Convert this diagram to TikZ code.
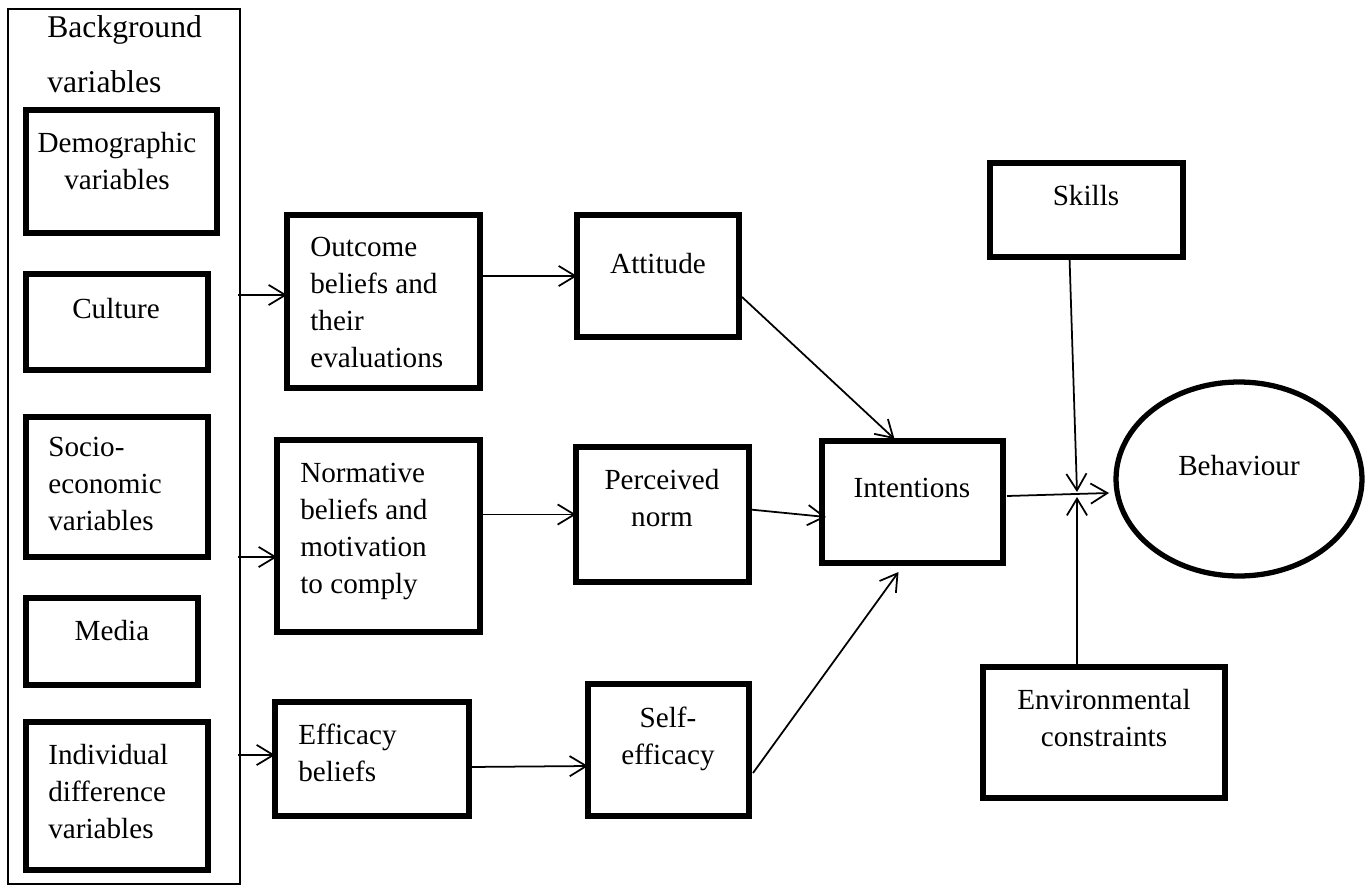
\documentclass[tikz,border=0pt]{standalone}
\usepackage{fontspec}
\setmainfont{Liberation Serif}
\usetikzlibrary{arrows.meta,calc,fit,shapes.geometric}

\begin{document}
\begin{tikzpicture}[x=0.02cm,y=-0.02cm,
  box/.style={draw,line width=3pt,inner sep=0pt,outer sep=0pt},
  frame/.style={draw,line width=0.8pt,inner sep=0pt,outer sep=0pt},
  oval/.style={draw,ellipse,line width=3pt,inner sep=0pt,outer sep=0pt,
    minimum width=4.92cm,minimum height=3.88cm},
  txt/.style={inner sep=0pt,font=\fontsize{16.6}{21}\selectfont},
  txtc/.style={txt,align=center,anchor=north},
  txtl/.style={txt,align=left,anchor=north west},
  arr/.style={-{Straight Barb[length=9.5pt,width=11.5pt]},line width=1pt}]

\useasboundingbox (0,0) rectangle (1370,886);

% background variables column
\node[frame,fit={(8,9) (240,884)}] (bg) {};
\node[txtl,font=\fontsize{18}{31.3}\selectfont] (bgt) at (47,15) {Background\\variables};

\node[box,fit={(26,110) (217,233)}] (demo) {};
\node[txtc] (demot) at (117,132) {Demographic\\variables};
\node[box,fit={(26,274) (208,370)}] (cult) {};
\node[txtc] (cultt) at (116,298) {Culture};
\node[box,fit={(26,417) (208,557)}] (soc) {};
\node[txtl] (soct) at (48,437) {Socio-\\economic\\variables};
\node[box,fit={(26,598) (198,685)}] (med) {};
\node[txtc] (medt) at (112,620) {Media};
\node[box,fit={(26,722) (208,870)}] (ind) {};
\node[txtl] (indt) at (48,744) {Individual\\difference\\variables};

% belief boxes
\node[box,fit={(287,215) (480,388)}] (outc) {};
\node[txtl] (outct) at (310,237) {Outcome\\beliefs and\\their\\evaluations};
\node[box,fit={(277,440) (480,632)}] (norm) {};
\node[txtl] (normt) at (300,463) {Normative\\beliefs and\\motivation\\to comply};
\node[box,fit={(275,702) (469,816)}] (eff) {};
\node[txtl] (efft) at (298,724) {Efficacy\\beliefs};

% determinants
\node[box,fit={(577,215) (739,337)}] (att) {};
\node[txtc] (attt) at (658,253) {Attitude};
\node[box,fit={(576,447) (749,582)}] (per) {};
\node[txtc] (pert) at (662,469) {Perceived\\norm};
\node[box,fit={(588,684) (749,816)}] (self) {};
\node[txtc] (selft) at (668,707) {Self-\\efficacy};

% intentions and behaviour
\node[box,fit={(822,441) (1003,563)}] (int) {};
\node[txtc] (intt) at (912,478) {Intentions};
\node[box,fit={(990,163) (1183,257)}] (sk) {};
\node[txtc] (skt) at (1086,185) {Skills};
\node[box,fit={(983,667) (1225,798)}] (env) {};
\node[txtc] (envt) at (1104,689) {Environmental\\constraints};
\node[oval] (beh) at (1239,479) {};
\node[txtc] (beht) at (1239,455) {Behaviour};

% connectors
\coordinate (s1) at (238,295);
\coordinate (s2) at (238,557);
\coordinate (s3) at (238,755);
\draw[arr] (s1) -- (s1 -| outc.west);
\draw[arr] (s2) -- (s2 -| norm.west);
\draw[arr] (s3) -- (s3 -| eff.west);

\draw[arr] (outc.east |- att.west) -- (att.west);
\draw[arr] (norm.east |- per.west) -- (per.west);
\draw[arr] ($(eff.east)+(0,8)$) -- ($(self.west)+(0,16)$);

\draw[arr] ($(att.east)+(3,21)$) -- ($(int.north)+(-18,-2)$);
\draw[arr] ($(per.east)+(1,-5)$) -- ($(int.west)+(4,15)$);
\draw[arr] ($(self.east)+(4,23)$) -- ($(int.south)+(-14,9)$);

\coordinate (jt) at (1077,492);
\coordinate (jb) at (1077,497);
\draw[arr] ($(int.east)+(4,-6)$) -- ($(beh.west)+(-7,14)$);
\draw[arr] ($(sk.south)+(-17,0)$) -- (jt);
\draw[arr] ($(env.north)+(-27,0)$) -- (jb);

\end{tikzpicture}
\end{document}
